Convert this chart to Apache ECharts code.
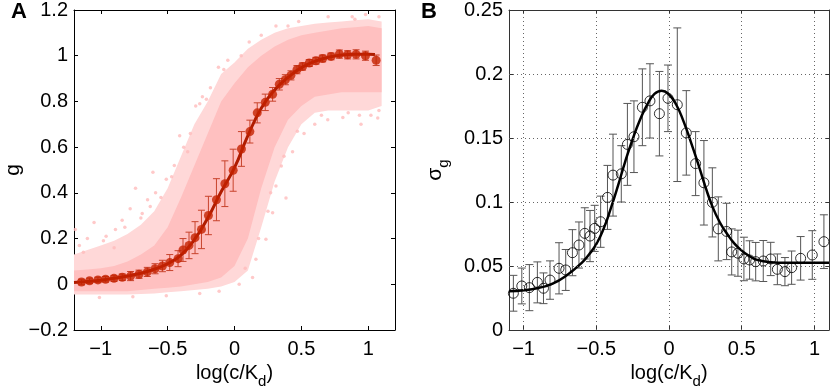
<html>
<head>
<meta charset="utf-8">
<title>g and sigma_g vs log(c/Kd)</title>
<script src="https://cdn.jsdelivr.net/npm/echarts@6.0.0/dist/echarts.min.js"></script>
</head>
<body style="margin:0;background:#fff">
<div id="main" style="width:830px;height:389px;"></div>
<script type="text/javascript">
// panel A : binned mean of g, with std error bars
var A_X   = [-1.144,-1.084,-1.021,-0.964,-0.901,-0.839,-0.777,-0.714,-0.652,-0.594,-0.539,-0.484,-0.422,-0.385,-0.34,-0.295,-0.247,-0.195,-0.135,-0.072,-0.01,0.052,0.115,0.17,0.23,0.285,0.335,0.38,0.422,0.467,0.509,0.559,0.609,0.659,0.722,0.784,0.846,0.909,0.979,1.059];
var A_G   = [0.010,0.015,0.019,0.022,0.026,0.031,0.036,0.044,0.054,0.068,0.080,0.095,0.112,0.150,0.170,0.204,0.240,0.301,0.370,0.440,0.499,0.592,0.668,0.750,0.796,0.831,0.875,0.895,0.914,0.939,0.953,0.968,0.978,0.988,0.997,1.007,1.004,1.006,1.000,0.980];
var A_ERR = [0.012,0.012,0.012,0.012,0.013,0.014,0.020,0.018,0.020,0.022,0.025,0.035,0.035,0.050,0.058,0.070,0.084,0.084,0.092,0.100,0.092,0.076,0.050,0.044,0.036,0.030,0.025,0.022,0.020,0.018,0.016,0.015,0.015,0.015,0.015,0.018,0.018,0.020,0.020,0.023];
// fitted curve in A
var AFIT_X = [-1.2,-1.1,-1.0,-0.9,-0.8,-0.7,-0.6,-0.5,-0.4,-0.3,-0.2,-0.1,0,0.1,0.2,0.3,0.4,0.5,0.6,0.7,0.8,0.9,1.0,1.05];
var AFIT_Y = [0.008,0.012,0.018,0.026,0.036,0.048,0.066,0.090,0.128,0.195,0.290,0.405,0.510,0.650,0.770,0.850,0.905,0.948,0.975,0.993,1.003,1.006,1.006,1.005];
// single cell cloud: dense core and sparse halo envelopes, plus stray points
var CLOUD_X    = [-1.2,-1.1,-1.0,-0.9,-0.8,-0.7,-0.6,-0.5,-0.4,-0.3,-0.2,-0.1,0,0.1,0.2,0.3,0.4,0.5,0.6,0.7,0.8,0.9,1.0,1.1];
var CORE_HI    = [0.06,0.065,0.07,0.08,0.10,0.13,0.17,0.25,0.38,0.52,0.66,0.80,0.88,0.95,1.00,1.04,1.07,1.09,1.10,1.11,1.12,1.125,1.13,1.12];
var CORE_LO    = [-0.03,-0.03,-0.03,-0.03,-0.03,-0.025,-0.02,-0.015,-0.01,0.0,0.01,0.03,0.08,0.20,0.42,0.60,0.72,0.78,0.82,0.83,0.84,0.84,0.84,0.84];
var HALO_HI    = [0.13,0.15,0.17,0.19,0.22,0.26,0.32,0.42,0.56,0.70,0.80,0.92,0.97,1.03,1.07,1.10,1.12,1.13,1.14,1.145,1.15,1.155,1.16,1.15];
var HALO_LO    = [-0.045,-0.045,-0.045,-0.045,-0.045,-0.042,-0.04,-0.035,-0.03,-0.025,-0.02,-0.01,0.01,0.06,0.25,0.45,0.60,0.70,0.75,0.76,0.76,0.76,0.76,0.78];
var STRAY = [[-1.19,0.24],[-1.05,0.27],[-1.16,0.17],[-0.96,0.21],[-0.84,0.28],[-0.78,0.33],[-0.74,0.42],[-0.61,0.49],[-0.59,0.40],[-0.41,0.65],[-0.38,0.60],[-0.29,0.78],[-0.12,0.95],[-0.24,0.82],[-0.51,0.46],[-0.69,0.31],[-0.89,0.24],[-0.65,0.37],[-0.26,0.79],[0.11,1.06],[0.31,1.13],[0.98,1.18],[1.08,1.17],[0.88,1.17],[0.48,1.15],
  [0.035,0.0],[0.135,0.03],[0.16,0.11],[0.235,0.197],[0.385,0.378],[0.285,0.313],[0.31,0.43],[0.35,0.517],[0.434,0.58],[0.52,0.66],[0.697,0.72],[0.946,0.70],[1.071,0.728],[0.934,0.74],[0.81,0.73],[1.08,0.76],[0.6,0.7],[0.25,0.32],
  [-1.01,-0.058],[-0.76,-0.055],[-0.51,-0.05],[-0.26,-0.04],[-0.115,-0.03],[-1.1,0.2],[-0.9,0.16],[-0.7,0.29],[-0.55,0.38],[-0.45,0.52],[-0.35,0.58],[-0.18,0.86],[-0.05,0.98],[0.2,1.09],[0.7,1.17],
  [-1.13,0.14],[-0.98,0.19],[-0.82,0.25],[-0.63,0.34],[-0.47,0.47],[-0.33,0.66],[-0.21,0.81],[-0.08,0.94],[0.05,1.0],[0.4,1.13],[0.9,1.16],
  [0.08,0.07],[0.18,0.2],[0.27,0.4],[0.37,0.56],[0.47,0.67],[0.65,0.74],[0.85,0.75],[1.02,0.74]];

// panel B : sigma_g
var B_X   = [-1.07,-1.012,-0.96,-0.905,-0.863,-0.818,-0.756,-0.71,-0.664,-0.619,-0.579,-0.543,-0.511,-0.47,-0.423,-0.385,-0.328,-0.286,-0.241,-0.183,-0.131,-0.066,-0.007,0.057,0.119,0.183,0.24,0.298,0.339,0.396,0.431,0.474,0.515,0.554,0.596,0.648,0.699,0.745,0.797,0.843,0.905,0.985,1.065];
var B_S   = [0.0287,0.0344,0.0331,0.0372,0.0326,0.039,0.0482,0.0469,0.0604,0.0664,0.0755,0.0734,0.0794,0.0846,0.1036,0.121,0.122,0.145,0.151,0.174,0.179,0.169,0.181,0.176,0.154,0.130,0.115,0.0997,0.079,0.077,0.061,0.060,0.0555,0.0547,0.0534,0.0539,0.0555,0.0474,0.0456,0.0487,0.056,0.0586,0.069];
var B_ERR = [0.014,0.014,0.018,0.016,0.012,0.015,0.020,0.016,0.018,0.018,0.020,0.020,0.018,0.020,0.025,0.032,0.022,0.032,0.028,0.030,0.029,0.033,0.026,0.060,0.033,0.025,0.033,0.027,0.025,0.022,0.018,0.018,0.017,0.015,0.015,0.016,0.013,0.012,0.011,0.013,0.017,0.019,0.021];
var BFIT_X = [-1.1,-1.0,-0.9,-0.8,-0.7,-0.6,-0.55,-0.5,-0.45,-0.4,-0.35,-0.3,-0.25,-0.2,-0.15,-0.1,-0.05,0,0.05,0.1,0.15,0.2,0.25,0.3,0.35,0.4,0.45,0.5,0.55,0.6,0.7,0.8,1.1];
var BFIT_Y = [0.0303,0.031,0.0328,0.0362,0.043,0.0525,0.059,0.067,0.079,0.095,0.113,0.132,0.149,0.164,0.176,0.1845,0.187,0.184,0.176,0.163,0.147,0.130,0.112,0.096,0.084,0.075,0.0675,0.062,0.058,0.055,0.053,0.0526,0.0526];

var TICKS_X = [-1,-0.5,0,0.5,1];
var FONT = 'Liberation Sans';

var myChart = echarts.init(document.getElementById('main'));

function zip(a, b) {
  var r = [];
  for (var i = 0; i < a.length; i++) r.push([a[i], b[i]]);
  return r;
}
function errData(x, y, e) {
  var r = [];
  for (var i = 0; i < x.length; i++) r.push([x[i], y[i] - e[i], y[i] + e[i]]);
  return r;
}
function minus(v) { return String(v).replace('-', '\u2212'); }

// vertical error bar with caps
function errRender(color, cap) {
  return function (params, api) {
    var top = api.coord([api.value(0), api.value(2)]);
    var bot = api.coord([api.value(0), api.value(1)]);
    var st = { stroke: color, lineWidth: 1 };
    return {
      type: 'group',
      children: [
        { type: 'line', shape: { x1: top[0], y1: top[1], x2: bot[0], y2: bot[1] }, style: st },
        { type: 'line', shape: { x1: top[0] - cap, y1: top[1], x2: top[0] + cap, y2: top[1] }, style: st },
        { type: 'line', shape: { x1: bot[0] - cap, y1: bot[1], x2: bot[0] + cap, y2: bot[1] }, style: st }
      ]
    };
  };
}

// band polygon: upper edge forward, lower edge back
function bandRender(hi, lo, fill) {
  return function (params, api) {
    var pts = [];
    for (var i = 0; i < CLOUD_X.length; i++) pts.push(api.coord([CLOUD_X[i], hi[i]]));
    for (var j = CLOUD_X.length - 1; j >= 0; j--) pts.push(api.coord([CLOUD_X[j], lo[j]]));
    return { type: 'polygon', shape: { points: pts }, style: { fill: fill } };
  };
}

function xAx(grid, min, max, color, pos) {
  var main = pos === 'bottom';
  return {
    type: 'value', gridIndex: grid, position: pos, min: min, max: max,
    axisLine: { show: true, onZero: false, lineStyle: { color: color, width: 1 } },
    axisTick: { show: true, inside: true, length: 4, customValues: TICKS_X, lineStyle: { color: color } },
    axisLabel: { show: main, customValues: TICKS_X, margin: 9, fontSize: 20, color: '#000', fontFamily: FONT, formatter: minus },
    splitLine: { show: false },
    name: main ? 'log(c/K{d|d})' : '', nameLocation: 'middle', nameGap: 27,
    nameTextStyle: { fontSize: 20, color: '#000', fontFamily: FONT,
      rich: { d: { fontSize: 15, color: '#000', fontFamily: FONT, padding: [16, 0, 0, 0] } } }
  };
}
function yAx(grid, min, max, step, color, pos, name, gap) {
  var main = pos === 'left';
  return {
    type: 'value', gridIndex: grid, position: pos, min: min, max: max, interval: step,
    axisLine: { show: true, onZero: false, lineStyle: { color: color, width: 1 } },
    axisTick: { show: true, inside: true, length: 4, lineStyle: { color: color } },
    axisLabel: { show: main, margin: 6, fontSize: 20, color: '#000', fontFamily: FONT, formatter: minus },
    splitLine: { show: false },
    name: main ? name : '', nameLocation: 'middle', nameGap: gap,
    nameTextStyle: { fontSize: 21, color: '#000', fontFamily: FONT,
      rich: { g: { fontSize: 15, color: '#000', fontFamily: FONT, padding: [16, 0, 0, 0] } } }
  };
}

var option = {
  animation: false,
  backgroundColor: '#fff',
  grid: [
    { left: 74, top: 10, width: 321, height: 320, outerBoundsMode: 'none', containLabel: false },
    { left: 509, top: 10, width: 320, height: 320, outerBoundsMode: 'none', containLabel: false }
  ],
  xAxis: [
    xAx(0, -1.2, 1.2, '#000', 'bottom'),
    xAx(0, -1.2, 1.2, '#000', 'top'),
    xAx(1, -1.1, 1.1, '#333', 'bottom'),
    xAx(1, -1.1, 1.1, '#333', 'top')
  ],
  yAxis: [
    yAx(0, -0.2, 1.2, 0.2, '#000', 'left', 'g', 50),
    yAx(0, -0.2, 1.2, 0.2, '#000', 'right', '', 0),
    yAx(1, 0, 0.25, 0.05, '#333', 'left', '\u03c3{g|g}', 58),
    yAx(1, 0, 0.25, 0.05, '#333', 'right', '', 0)
  ],
  graphic: [
    { type: 'text', left: 11, top: 1, style: { text: 'A', font: 'bold 22px "Liberation Sans"', fill: '#000' } },
    { type: 'text', left: 421, top: 1, style: { text: 'B', font: 'bold 22px "Liberation Sans"', fill: '#000' } }
  ],
  series: [
    { type: 'custom', xAxisIndex: 0, yAxisIndex: 0, renderItem: bandRender(HALO_HI, HALO_LO, '#ffd8d8'),
      data: [[0, 0]], z: 1, silent: true },
    { type: 'custom', xAxisIndex: 0, yAxisIndex: 0, renderItem: bandRender(CORE_HI, CORE_LO, '#ffc0c0'),
      data: [[0, 0]], z: 1, silent: true },
    { type: 'scatter', xAxisIndex: 0, yAxisIndex: 0, data: STRAY, symbolSize: 3.5,
      itemStyle: { color: '#ffbcbc' }, z: 2 },
    { type: 'custom', xAxisIndex: 0, yAxisIndex: 0, renderItem: errRender('#c8432c', 3.5),
      data: errData(A_X, A_G, A_ERR), z: 3 },
    { type: 'line', xAxisIndex: 0, yAxisIndex: 0, data: zip(AFIT_X, AFIT_Y), smooth: true,
      showSymbol: false, lineStyle: { color: '#b01c00', width: 3 }, z: 4 },
    { type: 'scatter', xAxisIndex: 0, yAxisIndex: 0, data: zip(A_X, A_G), symbolSize: 9,
      itemStyle: { color: '#c42200' }, z: 5 },

    // B dotted grid
    { type: 'line', xAxisIndex: 2, yAxisIndex: 2, data: [], z: 0,
      markLine: { silent: true, symbol: 'none', label: { show: false },
        lineStyle: { color: '#666', type: [1, 3], width: 1 },
        data: TICKS_X.map(function (v) { return { xAxis: v }; })
          .concat([0.05, 0.1, 0.15, 0.2].map(function (v) { return { yAxis: v }; })) } },
    { type: 'custom', xAxisIndex: 2, yAxisIndex: 2, renderItem: errRender('#555', 4),
      data: errData(B_X, B_S, B_ERR), z: 3 },
    { type: 'line', xAxisIndex: 2, yAxisIndex: 2, data: zip(BFIT_X, BFIT_Y), smooth: true,
      showSymbol: false, lineStyle: { color: '#000', width: 2.5 }, z: 4 },
    { type: 'scatter', xAxisIndex: 2, yAxisIndex: 2, data: zip(B_X, B_S), symbol: 'circle', symbolSize: 10,
      itemStyle: { color: 'rgba(255,255,255,0)', borderColor: '#000', borderWidth: 1 }, z: 5 }
  ]
};
myChart.setOption(option);
</script>
</body>
</html>
